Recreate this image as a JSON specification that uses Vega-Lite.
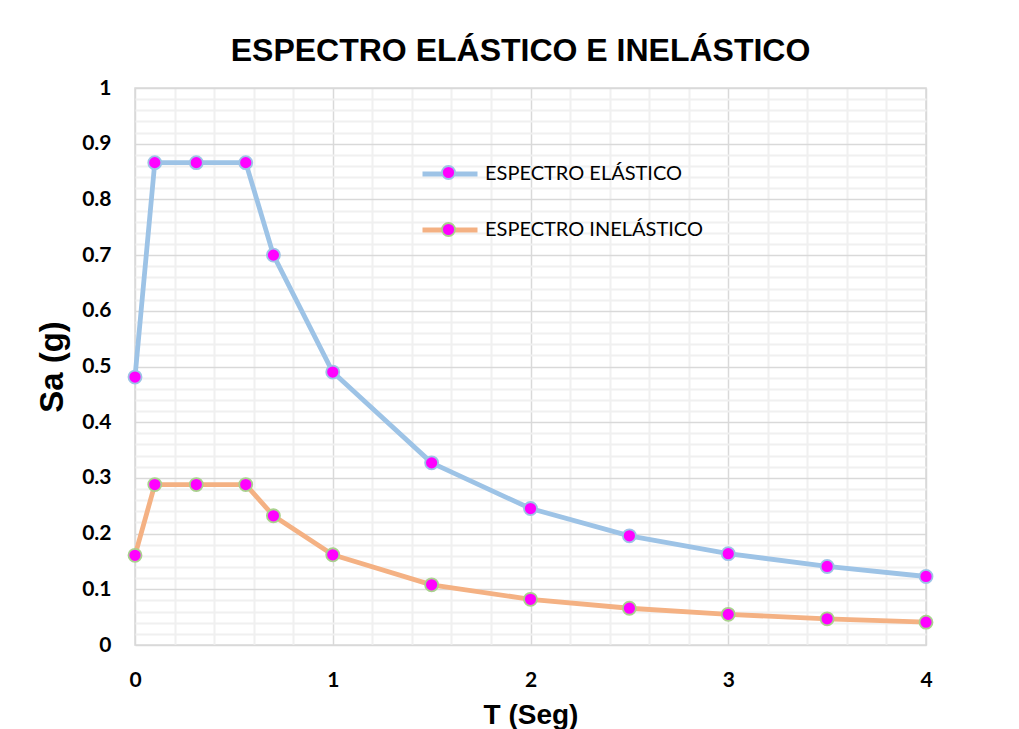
{
  "$schema": "https://vega.github.io/schema/vega-lite/v6.json",
  "autosize": {"type": "none"},
  "width": 791,
  "height": 557,
  "padding": {"left": 135, "top": 88, "right": 93, "bottom": 84},
  "background": "white",
  "title": {
    "text": "ESPECTRO ELÁSTICO E INELÁSTICO",
    "font": "Liberation Sans",
    "fontSize": 32,
    "fontWeight": "bold",
    "color": "#000000",
    "anchor": "middle",
    "dx": -10,
    "offset": 9
  },
  "config": {
    "view": {"stroke": "#d9d9d9", "strokeWidth": 1.5},
    "axis": {"domain": false, "ticks": false, "tickSize": 0}
  },
  "data": {
    "values": [
      {"T": 0, "Sa": 0.481, "serie": "ESPECTRO ELÁSTICO"},
      {"T": 0.1, "Sa": 0.866, "serie": "ESPECTRO ELÁSTICO"},
      {"T": 0.31, "Sa": 0.866, "serie": "ESPECTRO ELÁSTICO"},
      {"T": 0.56, "Sa": 0.866, "serie": "ESPECTRO ELÁSTICO"},
      {"T": 0.7, "Sa": 0.7, "serie": "ESPECTRO ELÁSTICO"},
      {"T": 1, "Sa": 0.49, "serie": "ESPECTRO ELÁSTICO"},
      {"T": 1.5, "Sa": 0.327, "serie": "ESPECTRO ELÁSTICO"},
      {"T": 2, "Sa": 0.245, "serie": "ESPECTRO ELÁSTICO"},
      {"T": 2.5, "Sa": 0.196, "serie": "ESPECTRO ELÁSTICO"},
      {"T": 3, "Sa": 0.164, "serie": "ESPECTRO ELÁSTICO"},
      {"T": 3.5, "Sa": 0.141, "serie": "ESPECTRO ELÁSTICO"},
      {"T": 4, "Sa": 0.123, "serie": "ESPECTRO ELÁSTICO"},
      {"T": 0, "Sa": 0.161, "serie": "ESPECTRO INELÁSTICO"},
      {"T": 0.1, "Sa": 0.288, "serie": "ESPECTRO INELÁSTICO"},
      {"T": 0.31, "Sa": 0.288, "serie": "ESPECTRO INELÁSTICO"},
      {"T": 0.56, "Sa": 0.288, "serie": "ESPECTRO INELÁSTICO"},
      {"T": 0.7, "Sa": 0.232, "serie": "ESPECTRO INELÁSTICO"},
      {"T": 1, "Sa": 0.162, "serie": "ESPECTRO INELÁSTICO"},
      {"T": 1.5, "Sa": 0.108, "serie": "ESPECTRO INELÁSTICO"},
      {"T": 2, "Sa": 0.082, "serie": "ESPECTRO INELÁSTICO"},
      {"T": 2.5, "Sa": 0.066, "serie": "ESPECTRO INELÁSTICO"},
      {"T": 3, "Sa": 0.055, "serie": "ESPECTRO INELÁSTICO"},
      {"T": 3.5, "Sa": 0.047, "serie": "ESPECTRO INELÁSTICO"},
      {"T": 4, "Sa": 0.041, "serie": "ESPECTRO INELÁSTICO"}
    ]
  },
  "resolve": {
    "scale": {"stroke": "independent"},
    "legend": {"stroke": "independent"},
    "axis": {"x": "independent", "y": "independent"}
  },
  "layer": [
    {
      "mark": {"type": "line", "strokeWidth": 0, "opacity": 0},
      "encoding": {
        "x": {
          "field": "T", "type": "quantitative",
          "scale": {"domain": [0, 4], "nice": false, "zero": false},
          "axis": {
            "orient": "bottom",
            "values": [0.2, 0.4, 0.6, 0.8, 1.2, 1.4, 1.6, 1.8, 2.2, 2.4, 2.6, 2.8, 3.2, 3.4, 3.6, 3.8],
            "labels": false, "title": null, "grid": true,
            "gridColor": "#f0f0f0", "gridWidth": 2, "domain": false, "ticks": false
          }
        },
        "y": {
          "field": "Sa", "type": "quantitative",
          "scale": {"domain": [0, 1], "nice": false},
          "axis": {
            "orient": "left",
            "values": [0.02, 0.04, 0.06, 0.08, 0.12, 0.14, 0.16, 0.18, 0.22, 0.24, 0.26, 0.28, 0.32, 0.34, 0.36, 0.38, 0.42, 0.44, 0.46, 0.48, 0.52, 0.54, 0.56, 0.58, 0.62, 0.64, 0.66, 0.68, 0.72, 0.74, 0.76, 0.78, 0.82, 0.84, 0.86, 0.88, 0.92, 0.94, 0.96, 0.98],
            "labels": false, "title": null, "grid": true,
            "gridColor": "#f0f0f0", "gridWidth": 2, "domain": false, "ticks": false
          }
        },
        "detail": {"field": "serie"}
      }
    },
    {
      "mark": {"type": "line", "strokeWidth": 4.8, "strokeCap": "round", "strokeJoin": "round"},
      "encoding": {
        "x": {
          "field": "T", "type": "quantitative",
          "axis": {
            "orient": "bottom",
            "values": [0, 1, 2, 3, 4],
            "grid": true, "gridColor": "#d9d9d9", "gridWidth": 1.5,
            "labelFont": "Lato", "labelFontWeight": "bold", "labelFontSize": 21, "labelColor": "#000000",
            "labelPadding": 24, "labelFlush": false,
            "title": "T (Seg)", "titleFont": "Liberation Sans", "titleFontSize": 28, "titleFontWeight": "bold", "titleColor": "#000000",
            "titlePadding": 11
          }
        },
        "y": {
          "field": "Sa", "type": "quantitative",
          "axis": {
            "orient": "left",
            "values": [0, 0.1, 0.2, 0.3, 0.4, 0.5, 0.6, 0.7, 0.8, 0.9, 1],
            "format": "~g",
            "grid": true, "gridColor": "#d9d9d9", "gridWidth": 1.5,
            "labelFont": "Lato", "labelFontWeight": "bold", "labelFontSize": 21, "labelColor": "#000000",
            "labelPadding": 24, "labelFlush": false,
            "title": "Sa (g)", "titleFont": "Liberation Sans", "titleFontSize": 33, "titleFontWeight": "bold", "titleColor": "#000000",
            "titlePadding": 12
          }
        },
        "stroke": {
          "field": "serie", "type": "nominal",
          "scale": {"domain": ["ESPECTRO ELÁSTICO", "ESPECTRO INELÁSTICO"], "range": ["#9DC3E6", "#F4B183"]},
          "legend": {
            "orient": "none", "legendX": 285, "legendY": 56, "title": null,
            "symbolType": "stroke", "symbolSize": 3025, "symbolStrokeWidth": 4.8,
            "labelFont": "Lato", "labelFontSize": 20, "labelColor": "#000000", "labelOffset": 5, "labelLimit": 400,
            "rowPadding": 16, "padding": 0, "zindex": 0
          }
        }
      }
    },
    {
      "mark": {"type": "point", "filled": true, "fill": "#FF00FF", "size": 170, "strokeWidth": 1.8, "opacity": 1},
      "encoding": {
        "x": {"field": "T", "type": "quantitative", "axis": null},
        "y": {"field": "Sa", "type": "quantitative", "axis": null},
        "stroke": {
          "field": "serie", "type": "nominal",
          "scale": {"domain": ["ESPECTRO ELÁSTICO", "ESPECTRO INELÁSTICO"], "range": ["#9DC3E6", "#A9D18E"]},
          "legend": {
            "orient": "none", "legendX": 306, "legendY": 77, "title": null,
            "symbolType": "circle", "symbolSize": 170, "symbolStrokeWidth": 1.8, "symbolFillColor": "#FF00FF",
            "labelExpr": "''", "labelFontSize": 1, "labelOffset": 0, "labelLimit": 10,
            "rowPadding": 36, "padding": 0, "zindex": 1,
            "encode": {"symbols": {"update": {"fill": {"value": "#FF00FF"}, "fillOpacity": {"value": 1}, "opacity": {"value": 1}}}}
          }
        }
      }
    }
  ]
}
